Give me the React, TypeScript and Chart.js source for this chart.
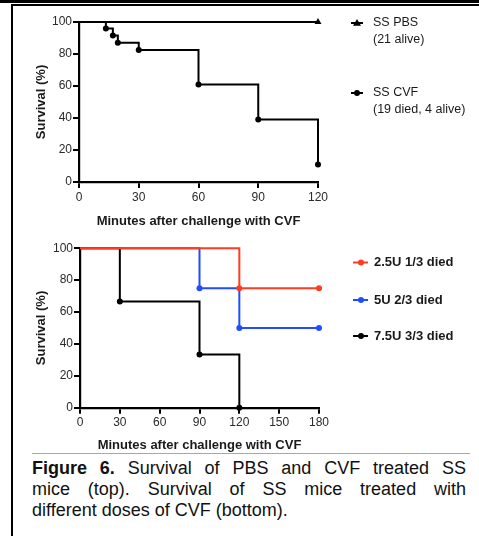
import React, { useEffect, useRef } from 'react';
import { Chart, registerables } from 'chart.js';

Chart.register(...registerables);

const FONT = '"Liberation Sans", Arial, Helvetica, sans-serif';

// ---- Top chart data ----
const topXTicks = [0, 30, 60, 90, 120];
const topYTicks = [0, 20, 40, 60, 80, 100];
const pbsTimes = [0, 120];
const pbsSurvival = [100, 100];
const cvfTimes = [0, 13.5, 17, 19.5, 30, 60, 90, 120];
const cvfSurvival = [100, 96, 91.5, 87, 82.5, 61, 39, 11];
const pbsLabel = ['SS PBS', '(21 alive)'];
const cvfLabel = ['SS CVF', '(19 died, 4 alive)'];

// ---- Bottom chart data ----
const bottomXTicks = [0, 30, 60, 90, 120, 150, 180];
const bottomYTicks = [0, 20, 40, 60, 80, 100];
const dose25Times = [0, 120, 180];
const dose25Survival = [100, 75, 75];
const dose5Times = [0, 90, 120, 180];
const dose5Survival = [100, 75, 50, 50];
const dose75Times = [0, 30, 90, 120];
const dose75Survival = [100, 66.7, 33.3, 0];
const doseLabels = ['2.5U 1/3 died', '5U 2/3 died', '7.5U 3/3 died'];

const xTitle = 'Minutes after challenge with CVF';
const yTitle = 'Survival (%)';

const RED = '#ff3b22';
const BLUE = '#1f4dff';
const BLACK = '#000000';

function pts(xs: number[], ys: number[]) {
  return xs.map((x, i) => ({ x, y: ys[i] }));
}

function radii(n: number, r: number) {
  return Array.from({ length: n }, (_, i) => (i === 0 ? 0 : r));
}

type LegendItem = { ds: number; x0: number; x1: number; mx: number; y: number; tx: number; lines: string[] };

function makeLegendPlugin(items: LegendItem[], font: string, lineGap: number) {
  return {
    id: 'sideLegend',
    afterDraw(chart: any) {
      const ctx = chart.ctx as CanvasRenderingContext2D;
      items.forEach((it) => {
        const ds = chart.data.datasets[it.ds];
        ctx.save();
        ctx.strokeStyle = ds.borderColor;
        ctx.lineWidth = 2;
        ctx.beginPath();
        ctx.moveTo(it.x0, it.y);
        ctx.lineTo(it.x1, it.y);
        ctx.stroke();
        ctx.fillStyle = ds.borderColor;
        ctx.beginPath();
        if (ds.pointStyle === 'triangle') {
          const r = 4;
          ctx.moveTo(it.mx, it.y - r);
          ctx.lineTo(it.mx + r, it.y + r * 0.7);
          ctx.lineTo(it.mx - r, it.y + r * 0.7);
          ctx.closePath();
        } else {
          ctx.arc(it.mx, it.y, 3, 0, Math.PI * 2);
        }
        ctx.fill();
        ctx.font = font;
        ctx.fillStyle = '#1a1a1a';
        ctx.textBaseline = 'middle';
        ctx.textAlign = 'left';
        it.lines.forEach((t, i) => ctx.fillText(t, it.tx, it.y + i * lineGap));
        ctx.restore();
      });
    },
  };
}

type Area = { left: number; top: number; right: number; bottom: number };

function buildChart(
  canvas: HTMLCanvasElement,
  W: number,
  H: number,
  area: Area,
  datasets: any[],
  xMax: number,
  xTicks: number[],
  yTicks: number[],
  titlePadBottom: number,
  plugin: any
) {
  const padLeft = 30;
  return new Chart(canvas, {
    type: 'line',
    data: { datasets },
    plugins: [plugin],
    options: {
      animation: false,
      responsive: false,
      maintainAspectRatio: false,
      events: [],
      layout: { padding: { left: padLeft, top: area.top, right: W - area.right, bottom: 0 } },
      plugins: { legend: { display: false }, tooltip: { enabled: false } },
      scales: {
        x: {
          type: 'linear',
          min: 0,
          max: xMax,
          afterFit: (s: any) => {
            s.height = H - area.bottom;
          },
          afterBuildTicks: (s: any) => {
            s.ticks = xTicks.map((v) => ({ value: v }));
          },
          border: { display: true, color: BLACK, width: 2.2 },
          grid: { display: true, drawOnChartArea: false, drawTicks: true, tickLength: 6, color: BLACK, lineWidth: 2 },
          ticks: { color: '#2a2a2a', font: { family: FONT, size: 12 }, padding: 2, maxRotation: 0, autoSkip: false },
          title: {
            display: true,
            text: xTitle,
            color: '#1a1a1a',
            font: { family: FONT, size: 13, weight: 'bold' },
            padding: { top: 0, bottom: titlePadBottom },
          },
        },
        y: {
          type: 'linear',
          min: 0,
          max: 100,
          afterFit: (s: any) => {
            s.width = area.left - padLeft;
          },
          afterBuildTicks: (s: any) => {
            s.ticks = yTicks.map((v) => ({ value: v }));
          },
          border: { display: true, color: BLACK, width: 2.2 },
          grid: { display: true, drawOnChartArea: false, drawTicks: true, tickLength: 6, color: BLACK, lineWidth: 2 },
          ticks: { color: '#2a2a2a', font: { family: FONT, size: 12 }, padding: 1, autoSkip: false },
          title: {
            display: true,
            text: yTitle,
            color: '#1a1a1a',
            font: { family: FONT, size: 13, weight: 'bold' },
            padding: { top: 4, bottom: 0 },
          },
        },
      },
    } as any,
  });
}

function lineDs(label: string, xs: number[], ys: number[], color: string, style: string, r: number) {
  return {
    label,
    data: pts(xs, ys),
    borderColor: color,
    backgroundColor: color,
    pointBackgroundColor: color,
    pointBorderColor: color,
    pointStyle: style,
    pointRadius: radii(xs.length, r),
    pointBorderWidth: 0,
    borderWidth: 2,
    stepped: 'before',
    fill: false,
    clip: false,
    tension: 0,
  };
}

export default function App() {
  const topRef = useRef<HTMLCanvasElement>(null);
  const botRef = useRef<HTMLCanvasElement>(null);

  useEffect(() => {
    const topW = 479, topH = 232;
    const botW = 479, botH = 221;
    const topLegend = makeLegendPlugin(
      [
        { ds: 0, x0: 351, x1: 363, mx: 357, y: 23, tx: 373, lines: pbsLabel },
        { ds: 1, x0: 351, x1: 363, mx: 357, y: 93, tx: 373, lines: cvfLabel },
      ],
      `12.5px ${FONT}`,
      16.5
    );
    const topChart = buildChart(
      topRef.current!,
      topW,
      topH,
      { left: 79, top: 22, right: 318, bottom: 182 },
      [
        lineDs(pbsLabel.join(' '), pbsTimes, pbsSurvival, BLACK, 'triangle', 4),
        lineDs(cvfLabel.join(' '), cvfTimes, cvfSurvival, BLACK, 'circle', 3),
      ],
      120,
      topXTicks,
      topYTicks,
      3,
      topLegend
    );

    const botLegend = makeLegendPlugin(
      [
        { ds: 0, x0: 353, x1: 368, mx: 361, y: 30.5, tx: 374, lines: [doseLabels[0]] },
        { ds: 1, x0: 353, x1: 368, mx: 361, y: 68, tx: 374, lines: [doseLabels[1]] },
        { ds: 2, x0: 353, x1: 368, mx: 361, y: 104, tx: 374, lines: [doseLabels[2]] },
      ],
      `bold 13px ${FONT}`,
      16
    );
    const botChart = buildChart(
      botRef.current!,
      botW,
      botH,
      { left: 80, top: 16.3, right: 319, bottom: 175.7 },
      [
        lineDs(doseLabels[0], dose25Times, dose25Survival, RED, 'circle', 3),
        lineDs(doseLabels[1], dose5Times, dose5Survival, BLUE, 'circle', 3),
        lineDs(doseLabels[2], dose75Times, dose75Survival, BLACK, 'circle', 3),
      ],
      180,
      bottomXTicks,
      bottomYTicks,
      0.2,
      botLegend
    );
    return () => {
      topChart.destroy();
      botChart.destroy();
    };
  }, []);

  return (
    <div
      style={{
        position: 'absolute',
        left: 0,
        top: 0,
        width: 479,
        height: 536,
        overflow: 'hidden',
        background: '#fff',
        fontFamily: FONT,
      }}
    >
      <div style={{ position: 'absolute', left: 0, top: 0, width: 479, height: 3, background: '#000' }} />
      <div
        style={{
          position: 'absolute',
          left: 11,
          top: 4,
          width: 480,
          height: 540,
          borderTop: '2px solid #000',
          borderLeft: '2px solid #000',
          boxSizing: 'border-box',
        }}
      />
      <canvas
        ref={topRef}
        width={479}
        height={232}
        style={{ position: 'absolute', left: 0, top: 0, width: 479, height: 232 }}
      />
      <canvas
        ref={botRef}
        width={479}
        height={221}
        style={{ position: 'absolute', left: 0, top: 232, width: 479, height: 221 }}
      />
      <div style={{ position: 'absolute', left: 32, top: 452.5, width: 438, height: 1, background: '#a8a8a8' }} />
      <div
        style={{
          position: 'absolute',
          left: 32,
          top: 458,
          width: 434,
          fontSize: 18,
          lineHeight: '21px',
          color: '#111',
        }}
      >
        <div style={{ textAlign: 'justify', textAlignLast: 'justify', whiteSpace: 'nowrap' as any }}>
          <b>Figure 6.</b> Survival of PBS and CVF treated SS
        </div>
        <div style={{ textAlign: 'justify', textAlignLast: 'justify' }}>
          mice (top). Survival of SS mice treated with
        </div>
        <div style={{ textAlign: 'left' }}>different doses of CVF (bottom).</div>
      </div>
    </div>
  );
}
